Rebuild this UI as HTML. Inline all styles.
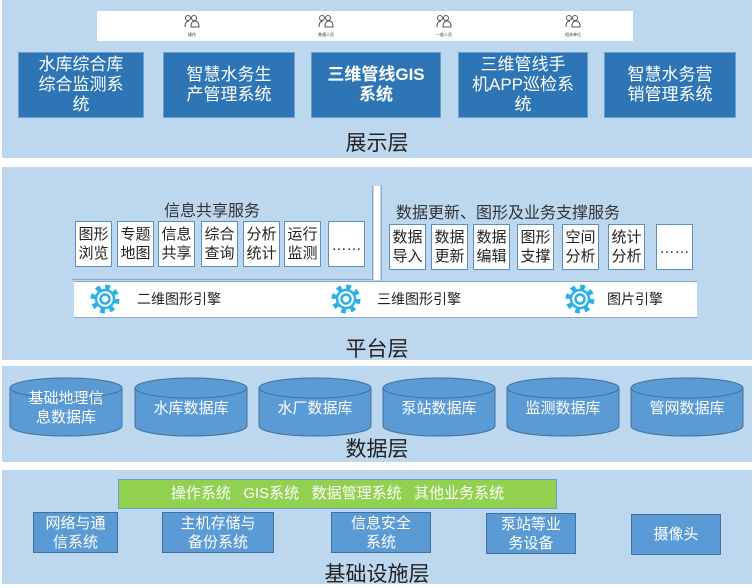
<!DOCTYPE html>
<html><head><meta charset="utf-8"><style>
*{margin:0;padding:0;box-sizing:border-box}
body{width:754px;height:584px;background:#fff;position:relative;overflow:hidden;font-family:"Liberation Sans","Noto Sans CJK SC",sans-serif}
.a{position:absolute}
.layer{background:#bdd7ee}
.tb{background:#2e75b6;color:#fff;font-size:17px;line-height:20px;text-align:center;display:flex;align-items:center;justify-content:center;border:1px solid #6a9fd0}
.title{font-size:21px;color:#222;text-align:center;width:100%}
.sb{background:#fff;border:1px solid #5b8fc4;font-size:15px;line-height:19px;color:#222;text-align:center;width:37px;height:46px;padding-top:3px}
.db{color:#fff;font-size:15px;line-height:19px;text-align:center;display:flex;align-items:center;justify-content:center}
.ib{background:#5b9bd5;border:1px solid #41719c;color:#fff;font-size:15px;line-height:19px;text-align:center;display:flex;align-items:center;justify-content:center}
</style></head><body>
<!-- layer 1 -->
<div class="a layer" style="left:2px;top:0;width:750px;height:158px"></div>
<div class="a" style="left:97px;top:11px;width:536px;height:30px;background:#fff"></div>
<svg class="a" style="left:97px;top:11px" width="536" height="30">
<g fill="none" stroke="#555" stroke-width="1">
<g transform="translate(88,4)"><circle cx="3" cy="3" r="2.5"/><circle cx="9" cy="3" r="2.5"/><path d="M0 12 q0-6 4-6 M6 12 q0-6 4-6 q4 0 4 6z"/></g>
<g transform="translate(222,4)"><circle cx="3" cy="3" r="2.5"/><circle cx="9" cy="3" r="2.5"/><path d="M0 12 q0-6 4-6 M6 12 q0-6 4-6 q4 0 4 6z"/></g>
<g transform="translate(340,4)"><circle cx="3" cy="3" r="2.5"/><circle cx="9" cy="3" r="2.5"/><path d="M0 12 q0-6 4-6 M6 12 q0-6 4-6 q4 0 4 6z"/></g>
<g transform="translate(469,4)"><circle cx="3" cy="3" r="2.5"/><circle cx="9" cy="3" r="2.5"/><path d="M0 12 q0-6 4-6 M6 12 q0-6 4-6 q4 0 4 6z"/></g>
</g>
<g font-size="4" fill="#333" text-anchor="middle"><text x="95" y="25">操作</text><text x="229" y="25">普通人员</text><text x="347" y="25">一般人员</text><text x="476" y="25">相关单位</text></g>
</svg>
<div class="a tb" style="left:18px;top:52px;width:126px;height:66px">水库综合库<br>综合监测系<br>统</div>
<div class="a tb" style="left:163px;top:52px;width:132px;height:66px">智慧水务生<br>产管理系统</div>
<div class="a tb" style="left:311px;top:52px;width:130px;height:66px;font-weight:bold">三维管线GIS<br>系统</div>
<div class="a tb" style="left:458px;top:52px;width:130px;height:66px">三维管线手<br>机APP巡检系<br>统</div>
<div class="a tb" style="left:604px;top:52px;width:132px;height:66px">智慧水务营<br>销管理系统</div>
<div class="a title" style="top:127px">展示层</div>

<!-- layer 2 -->
<div class="a layer" style="left:2px;top:167px;width:750px;height:193px"></div>
<div class="a" style="left:72px;top:186px;width:301px;height:94px;border-right:1px solid #8aa9c6;border-bottom:1px solid #8aa9c6"></div>
<div class="a" style="left:381px;top:185px;width:320px;height:96px;border-left:1px solid #8aa9c6"></div>
<div class="a" style="left:374px;top:186px;width:6px;height:94px;background:#fff"></div>
<div class="a" style="left:74px;top:281px;width:623px;height:37px;background:#fff;border-top:1px solid #8aa9c6;border-bottom:1px solid #8aa9c6"></div>
<div class="a" style="left:164px;top:197px;font-size:16px;color:#333">信息共享服务</div>
<div class="a" style="left:396px;top:199px;font-size:16px;color:#333">数据更新、图形及业务支撑服务</div>
<div class="a sb" style="left:75px;top:221px">图形<br>浏览</div>
<div class="a sb" style="left:117px;top:221px">专题<br>地图</div>
<div class="a sb" style="left:158px;top:221px">信息<br>共享</div>
<div class="a sb" style="left:201px;top:221px">综合<br>查询</div>
<div class="a sb" style="left:243px;top:221px">分析<br>统计</div>
<div class="a sb" style="left:284px;top:221px">运行<br>监测</div>
<div class="a sb" style="left:328px;top:221px;padding-top:14px">……</div>
<div class="a sb" style="left:389px;top:224px">数据<br>导入</div>
<div class="a sb" style="left:431px;top:224px">数据<br>更新</div>
<div class="a sb" style="left:473px;top:224px">数据<br>编辑</div>
<div class="a sb" style="left:517px;top:224px">图形<br>支撑</div>
<div class="a sb" style="left:562px;top:224px">空间<br>分析</div>
<div class="a sb" style="left:608px;top:224px">统计<br>分析</div>
<div class="a sb" style="left:656px;top:224px;padding-top:14px">……</div>
<svg class="a" style="left:0;top:280px" width="754" height="40">
<defs><g id="g"><circle r="12" fill="none" stroke="#2bb0e8" stroke-width="5" stroke-dasharray="4.7 4.7"/><circle r="9" fill="none" stroke="#2bb0e8" stroke-width="2.5"/><circle r="4.5" fill="none" stroke="#2bb0e8" stroke-width="2.5"/></g></defs>
<use href="#g" x="105" y="19"/><use href="#g" x="346" y="19"/><use href="#g" x="580" y="19"/>
<g font-size="14" fill="#222"><text x="137" y="24">二维图形引擎</text><text x="377" y="24">三维图形引擎</text><text x="607" y="24">图片引擎</text></g>
</svg>
<div class="a title" style="top:333px">平台层</div>

<!-- layer 3 -->
<div class="a layer" style="left:2px;top:366px;width:750px;height:96px"></div>
<svg class="a" style="left:0;top:366px" width="754" height="96">
<defs><g id="c"><path d="M0 11 v38 a56 10 0 0 0 112 0 v-38z" fill="#5b9bd5" stroke="#41719c"/><ellipse cx="56" cy="11" rx="56" ry="10" fill="#5b9bd5" stroke="#41719c"/></g></defs>
<use href="#c" x="10" y="11"/><use href="#c" x="135" y="11"/><use href="#c" x="259" y="11"/><use href="#c" x="383" y="11"/><use href="#c" x="507" y="11"/><use href="#c" x="631" y="11"/>
</svg>
<div class="a db" style="left:10px;top:388px;width:112px;height:40px">基础地理信<br>息数据库</div>
<div class="a db" style="left:135px;top:388px;width:112px;height:40px">水库数据库</div>
<div class="a db" style="left:259px;top:388px;width:112px;height:40px">水厂数据库</div>
<div class="a db" style="left:383px;top:388px;width:112px;height:40px">泵站数据库</div>
<div class="a db" style="left:507px;top:388px;width:112px;height:40px">监测数据库</div>
<div class="a db" style="left:631px;top:388px;width:112px;height:40px">管网数据库</div>
<div class="a title" style="top:433px">数据层</div>

<!-- layer 4 -->
<div class="a layer" style="left:2px;top:470px;width:750px;height:114px"></div>
<div class="a" style="left:118px;top:479px;width:439px;height:30px;background:#92d050;border:1px solid #6a9fd0;color:#fff;font-size:15px;text-align:center;line-height:28px">操作系统&nbsp;&nbsp; GIS系统&nbsp;&nbsp; 数据管理系统&nbsp;&nbsp; 其他业务系统</div>
<div class="a ib" style="left:33px;top:512px;width:85px;height:41px">网络与通<br>信系统</div>
<div class="a ib" style="left:162px;top:512px;width:112px;height:41px">主机存储与<br>备份系统</div>
<div class="a ib" style="left:331px;top:512px;width:100px;height:41px">信息安全<br>系统</div>
<div class="a ib" style="left:486px;top:513px;width:90px;height:41px">泵站等业<br>务设备</div>
<div class="a ib" style="left:631px;top:514px;width:90px;height:41px">摄像头</div>
<div class="a title" style="top:558px">基础设施层</div>
</body></html>
